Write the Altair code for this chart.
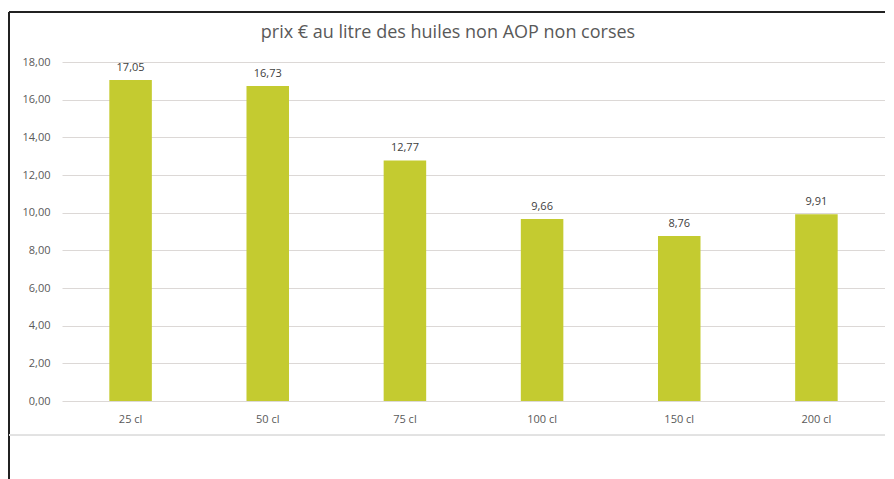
import altair as alt
import pandas as pd

categories = ["25 cl", "50 cl", "75 cl", "100 cl", "150 cl", "200 cl"]
values = [17.05, 16.73, 12.77, 9.66, 8.76, 9.91]
y_ticks = [0, 2, 4, 6, 8, 10, 12, 14, 16, 18]
title_text = ["prix € au litre des huiles non AOP non corses"]

df = pd.DataFrame({"cat": categories, "v": values})

FONT = "Open Sans"
GRAY = "#595959"

base = alt.Chart(df).encode(
    x=alt.X("cat:N", sort=categories, title=None,
            scale=alt.Scale(paddingInner=0.69, paddingOuter=0.345),
            axis=alt.Axis(labelAngle=0, ticks=False, domain=False, labelPadding=12,
                          labelFont=FONT, labelFontSize=11, labelColor=GRAY)),
    y=alt.Y("v:Q", title=None,
            scale=alt.Scale(domain=[0, 18], nice=False),
            axis=alt.Axis(values=y_ticks, ticks=False, domain=False, labelPadding=12,
                          labelExpr="replace(format(datum.value, '.2f'), '.', ',')",
                          labelFont=FONT, labelFontSize=11, labelColor=GRAY,
                          gridColor="#dcd8d6", gridWidth=1)),
)

bars = base.mark_bar(color="#c4cb30")
labels = base.transform_calculate(
    lab="replace(format(datum.v, '.2f'), '.', ',')"
).mark_text(dy=-12, font=FONT, fontSize=11, color="#404040").encode(text="lab:N")

title = alt.Chart(pd.DataFrame({"t": title_text})).mark_text(
    font=FONT, fontSize=18, color=GRAY, baseline="middle", align="center", clip=False
).encode(text="t:N", x=alt.value(386), y=alt.value(-29))

frame_top = alt.Chart(df).mark_rule(color="#222222", strokeWidth=1.5, clip=False).encode(
    x=alt.value(-53), x2=alt.value(840), y=alt.value(-50))
frame_left = alt.Chart(df).mark_rule(color="#222222", strokeWidth=1.5, clip=False).encode(
    x=alt.value(-53), y=alt.value(-50), y2=alt.value(440))
box_bottom = alt.Chart(df).mark_rule(color="#e2e2e2", strokeWidth=1, clip=False).encode(
    x=alt.value(-53), x2=alt.value(840), y=alt.value(373))

chart = alt.layer(frame_top, frame_left, box_bottom, bars, labels, title).properties(
    width=823, height=339,
    padding={"left": 54, "top": 54, "right": 0, "bottom": 90},
    autosize=alt.AutoSizeParams(type="none"),
).configure_view(stroke=None)

chart.save("out.html", embed_options={"renderer": "svg", "actions": False})
